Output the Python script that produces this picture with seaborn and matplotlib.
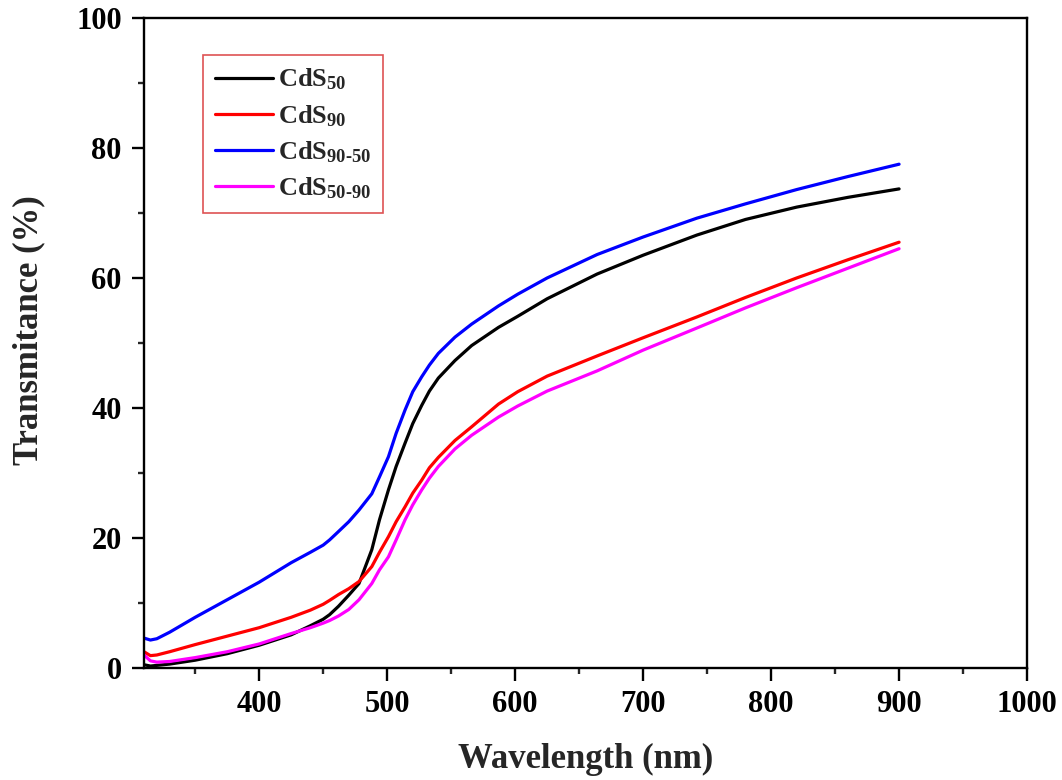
import numpy as np
import pandas as pd
import matplotlib
matplotlib.use("Agg")
import matplotlib.pyplot as plt
import seaborn as sns
from matplotlib.ticker import MultipleLocator

wavelength = [310, 315, 320, 330, 350, 375, 400, 425, 440, 450, 455, 462, 470,
              478, 488, 494, 501, 507, 514, 520, 527, 533, 540, 553, 566, 587,
              602, 625, 664, 700, 742, 780, 820, 860, 900]

cds50 = [0.5, 0.3, 0.4, 0.6, 1.2, 2.2, 3.5, 5.1, 6.5, 7.5, 8.2, 9.5, 11.2,
         13.0, 18.2, 22.8, 27.4, 31.0, 34.6, 37.6, 40.4, 42.6, 44.6, 47.3, 49.6,
         52.4, 54.1, 56.8, 60.6, 63.5, 66.6, 69.0, 70.9, 72.4, 73.7]
cds90 = [2.5, 1.9, 2.0, 2.5, 3.6, 4.9, 6.2, 7.8, 8.9, 9.8, 10.4, 11.3, 12.2,
         13.3, 15.6, 17.8, 20.2, 22.5, 24.8, 26.9, 28.9, 30.8, 32.4, 35.0, 37.1,
         40.6, 42.5, 44.9, 48.0, 50.8, 54.0, 57.0, 60.0, 62.8, 65.5]
cds90_50 = [4.6, 4.3, 4.5, 5.5, 7.8, 10.5, 13.2, 16.2, 17.8, 18.9, 19.7, 21.0,
            22.5, 24.3, 26.8, 29.4, 32.5, 36.1, 39.7, 42.5, 44.8, 46.6, 48.4,
            50.9, 52.9, 55.7, 57.5, 60.0, 63.6, 66.3, 69.2, 71.4, 73.6, 75.6,
            77.5]
cds50_90 = [2.0, 1.1, 0.9, 1.0, 1.6, 2.5, 3.7, 5.3, 6.2, 6.9, 7.3, 8.0, 9.0,
            10.5, 13.0, 15.1, 17.1, 19.7, 22.8, 25.1, 27.4, 29.2, 31.0, 33.7,
            35.8, 38.6, 40.3, 42.6, 45.7, 48.9, 52.3, 55.4, 58.5, 61.5, 64.5]

labels = [r"CdS$_{\text{50}}$", r"CdS$_{\text{90}}$",
          r"CdS$_{\text{90-50}}$", r"CdS$_{\text{50-90}}$"]
colors = ["#000000", "#ff0000", "#0000ff", "#ff00ff"]

frames = []
for lab, vals in zip(labels, [cds50, cds90, cds90_50, cds50_90]):
    frames.append(pd.DataFrame({"Wavelength": wavelength, "T": vals, "Sample": lab}))
df = pd.concat(frames, ignore_index=True)

sns.set_theme(style="ticks")
plt.rcParams["font.family"] = ["Liberation Serif", "DejaVu Serif"]
plt.rcParams["font.weight"] = "bold"
plt.rcParams["mathtext.fontset"] = "custom"
plt.rcParams["mathtext.rm"] = "Liberation Serif:bold"
plt.rcParams["mathtext.it"] = "Liberation Serif:bold"
plt.rcParams["mathtext.bf"] = "Liberation Serif:bold"

fig = plt.figure(figsize=(10.62, 7.8), dpi=100)
ax = fig.add_axes([0.1356, 0.1436, 0.8315, 0.8334])

sns.lineplot(data=df, x="Wavelength", y="T", hue="Sample",
             palette=dict(zip(labels, colors)), linewidth=2.3, ax=ax,
             sort=False)

ax.set_xlim(310, 1000)
ax.set_ylim(0, 100)
ax.set_xticks([400, 500, 600, 700, 800, 900, 1000])
ax.xaxis.set_minor_locator(MultipleLocator(50))
ax.yaxis.set_major_locator(MultipleLocator(20))
ax.yaxis.set_minor_locator(MultipleLocator(10))

for s in ax.spines.values():
    s.set_visible(True)
    s.set_linewidth(1.7)
    s.set_color("black")

ax.tick_params(which="major", direction="out", length=9, width=1.7,
               labelsize=22, colors="black", pad=7)
ax.tick_params(which="minor", direction="out", length=4.5, width=1.7)
for lbl in ax.get_xticklabels() + ax.get_yticklabels():
    lbl.set_fontweight("bold")

ax.set_xlabel("Wavelength (nm)", fontsize=25, fontweight="bold", labelpad=17)
ax.set_ylabel("Transmitance (%)", fontsize=25, fontweight="bold")
ax.yaxis.set_label_coords(-0.112, 0.52)

leg = ax.legend(loc="upper left", bbox_to_anchor=(0.067, 0.943), frameon=True,
                fancybox=False, edgecolor="#d62728", fontsize=19,
                handlelength=2.2, handletextpad=0.2, labelspacing=0.4,
                borderpad=0.45, borderaxespad=0)
leg.get_frame().set_linewidth(1.2)
for t in leg.get_texts():
    t.set_fontweight("bold")
for h in leg.get_lines():
    h.set_linewidth(2.3)

fig.savefig("out.png", dpi=100)
